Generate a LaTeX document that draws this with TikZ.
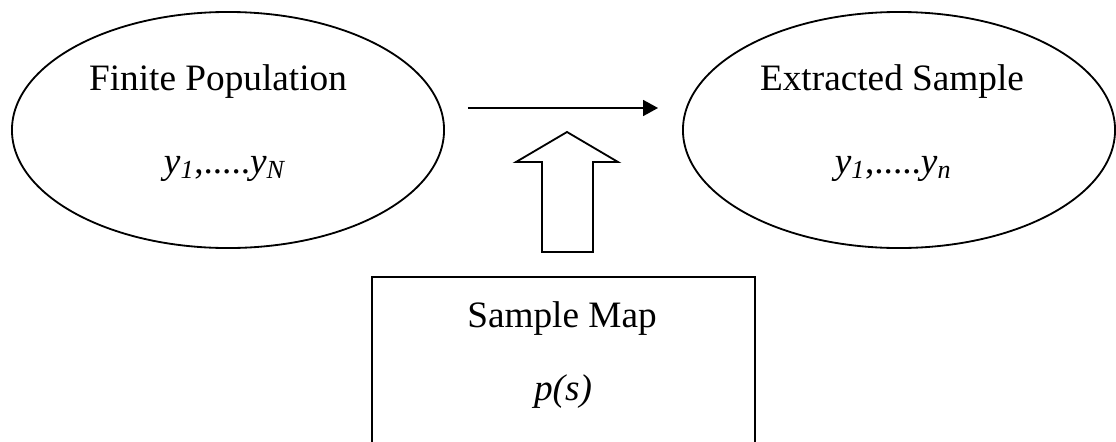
\documentclass[tikz,border=0pt]{standalone}
\usepackage{fontspec}
\setmainfont{Liberation Serif}
\usetikzlibrary{shapes.geometric,arrows.meta}

\begin{document}
\begin{tikzpicture}[x=0.025cm,y=-0.025cm,
        blob/.style={ellipse,draw,line width=1.3pt,minimum width=10.8cm,minimum height=5.9cm,inner sep=0pt},
        lbl/.style={anchor=base,inner sep=0pt,font=\fontsize{26.5}{32}\selectfont}]
                \useasboundingbox (0,0) rectangle (1116,441);

                \node (pop) at (228,130) [blob] {};
                \node (smp) at (899,130) [blob] {};
                \node (map) at (563.5,276) [draw,line width=1.3pt,anchor=north,minimum width=9.575cm,minimum height=5cm] {};

                \node (popname) at (218,90) [lbl] {Finite Population};
                \node (popvals) at (225,173) [lbl] {\textit{y}\textsubscript{\textit{1}},.....\textit{y}\textsubscript{\textit{N}}};
                \node (smpname) at (892,90) [lbl] {Extracted Sample};
                \node (smpvals) at (893,173) [lbl] {\textit{y}\textsubscript{\textit{1}},.....\textit{y}\textsubscript{\textit{n}}};
                \node (mapname) at (562,327) [lbl] {Sample Map};
                \node (mapvals) at (563,400) [lbl] {\textit{p(s)}};

                \draw[line width=1.3pt,-{Triangle[length=0.375cm,width=0.4cm]},shorten <=0.575cm,shorten >=0.6cm]
                ([yshift=0.55cm]pop.east) -- ([yshift=0.55cm]smp.west);

                \draw[line width=1.3pt,line join=miter] (542,252) -- (542,162) -- (516,162) -- (567,132) -- (618,162)
                -- (593,162) -- (593,252) -- cycle;

            \end{tikzpicture}
\end{document}
